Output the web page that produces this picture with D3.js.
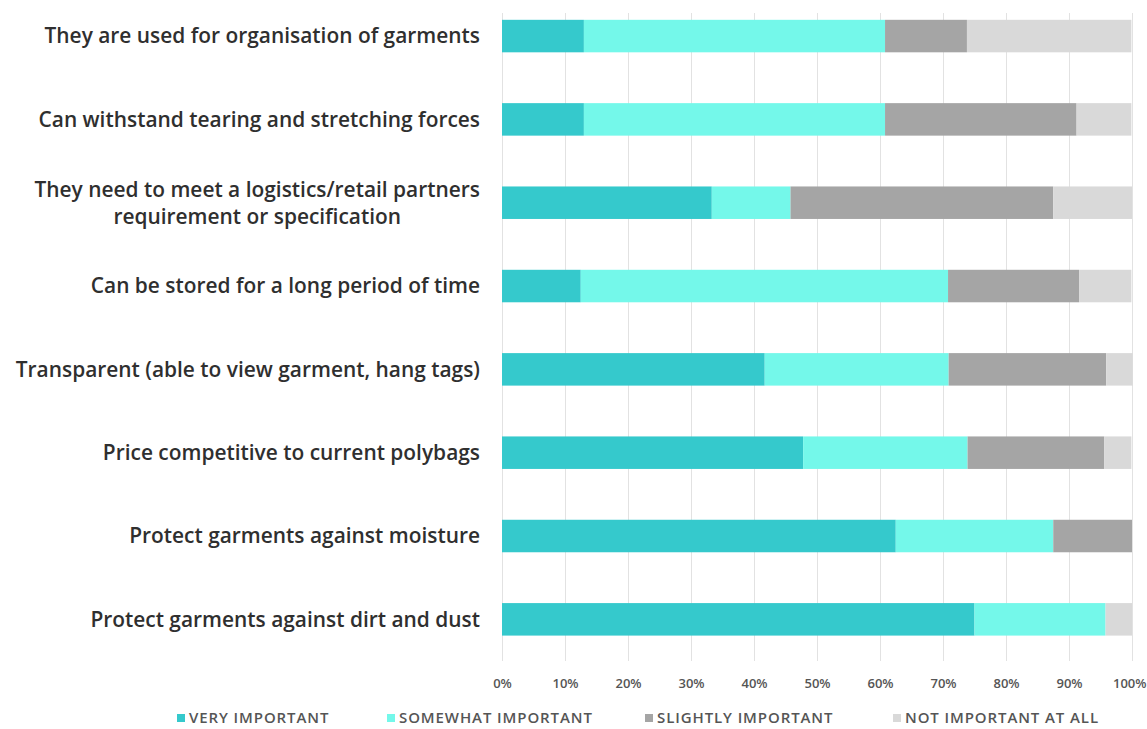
<!DOCTYPE html>
<html>
<head>
<meta charset="utf-8">
<script src="https://cdn.jsdelivr.net/npm/d3@7"></script>
<style>
  html, body { margin: 0; padding: 0; background: #ffffff; }
  svg { display: block; }
</style>
</head>
<body>
<svg id="chart" width="1147" height="729"></svg>
<script>
// Survey statements (top to bottom); multi-line entries split on "\n"
const categories = [
  "They are used for organisation of garments",
  "Can withstand tearing and stretching forces",
  "They need to meet a logistics/retail partners\nrequirement or specification",
  "Can be stored for a long period of time",
  "Transparent (able to view garment, hang tags)",
  "Price competitive to current polybags",
  "Protect garments against moisture",
  "Protect garments against dirt and dust"
];

// Share of respondents (%) per rating
const veryImportant     = [13.0, 13.0, 33.3, 12.5, 41.7, 47.8, 62.5, 75.0];
const somewhatImportant = [47.8, 47.8, 12.5, 58.3, 29.2, 26.1, 25.0, 20.8];
const slightlyImportant = [13.0, 30.4, 41.7, 20.8, 25.0, 21.7, 12.5, 0.0];
const notImportant      = [26.1,  8.7, 12.5,  8.3,  4.2,  4.3,  0.0,  4.2];

const seriesNames = ["VERY IMPORTANT", "SOMEWHAT IMPORTANT", "SLIGHTLY IMPORTANT", "NOT IMPORTANT AT ALL"];
const seriesColors = ["#35c9cc", "#74f8ea", "#a5a5a5", "#d9d9d9"];
const xTicks = [0, 10, 20, 30, 40, 50, 60, 70, 80, 90, 100];

const rows = categories.map((c, i) => ({
  cat: c,
  s0: veryImportant[i], s1: somewhatImportant[i], s2: slightlyImportant[i], s3: notImportant[i]
}));
const keys = ["s0", "s1", "s2", "s3"];
const stacked = d3.stack().keys(keys)(rows);

const svg = d3.select("#chart");
const width = 1147;
const plotLeft = 502, plotRight = 1132;
const gridTop = 13, gridBottom = 661;

const x = d3.scaleLinear().domain([0, 100]).range([plotLeft, plotRight]);
const y = d3.scaleBand().domain(categories).range([-5.6, 661])
  .paddingInner(0.61).paddingOuter(0.305);

const font = "'Open Sans', 'Noto Sans', sans-serif";

// vertical gridlines
svg.append("g").selectAll("line").data(xTicks).join("line")
  .attr("x1", d => x(d) + 0.5).attr("x2", d => x(d) + 0.5)
  .attr("y1", gridTop).attr("y2", gridBottom)
  .attr("stroke", "#e2e2e2").attr("stroke-width", 1);

// stacked bars
svg.append("g").selectAll("g").data(stacked).join("g")
  .attr("fill", (d, i) => seriesColors[i])
  .selectAll("rect").data(d => d).join("rect")
  .attr("x", d => x(d[0]))
  .attr("width", d => x(d[1]) - x(d[0]))
  .attr("y", d => y(d.data.cat))
  .attr("height", y.bandwidth());

// x axis tick labels
const xAxis = d3.axisBottom(x).tickValues(xTicks).tickFormat(d => d + "%").tickSize(0).tickPadding(0);
const gx = svg.append("g").attr("transform", `translate(0, 679)`).call(xAxis);
gx.select(".domain").remove();
gx.selectAll("text")
  .attr("font-family", font).attr("font-size", 13).attr("font-weight", 600).attr("fill", "#555")
  .attr("dy", "0.71em");
// keep the last tick label inside the page edge
gx.selectAll(".tick").filter(d => d === 100).select("text")
  .attr("text-anchor", "end").attr("x", (width - 1) - x(100));

// category labels, right-aligned; multi-line ones centred on each other
const labelRight = 480;
const labelG = svg.append("g")
  .attr("font-family", font).attr("font-size", 20.9).attr("font-weight", 600).attr("fill", "#2f2f2f");
categories.forEach(c => {
  const lines = c.split("\n");
  const cy = y(c) + y.bandwidth() / 2;
  const lh = 27;
  if (lines.length === 1) {
    labelG.append("text").attr("x", labelRight).attr("y", cy).attr("dy", "0.35em")
      .attr("text-anchor", "end").text(lines[0]);
  } else {
    const t = labelG.append("text").attr("text-anchor", "middle");
    const first = t.append("tspan").text(lines[0]);
    const w = first.node().getComputedTextLength();
    const cx = labelRight - w / 2;
    t.attr("x", cx);
    lines.forEach((ln, k) => {
      const sp = k === 0 ? first : t.append("tspan").text(ln);
      sp.attr("x", cx).attr("y", cy + (k - (lines.length - 1) / 2) * lh).attr("dy", "0.35em");
    });
  }
});

// legend
const legendX = [177, 387, 645, 893];
const lg = svg.append("g").attr("font-family", font).attr("font-size", 15)
  .attr("font-weight", 600).attr("letter-spacing", 0.9).attr("fill", "#555");
seriesNames.forEach((n, i) => {
  lg.append("rect").attr("x", legendX[i]).attr("y", 714).attr("width", 8).attr("height", 8)
    .attr("fill", seriesColors[i]);
  lg.append("text").attr("x", legendX[i] + 12).attr("y", 718).attr("dy", "0.35em").text(n);
});
</script>
</body>
</html>
